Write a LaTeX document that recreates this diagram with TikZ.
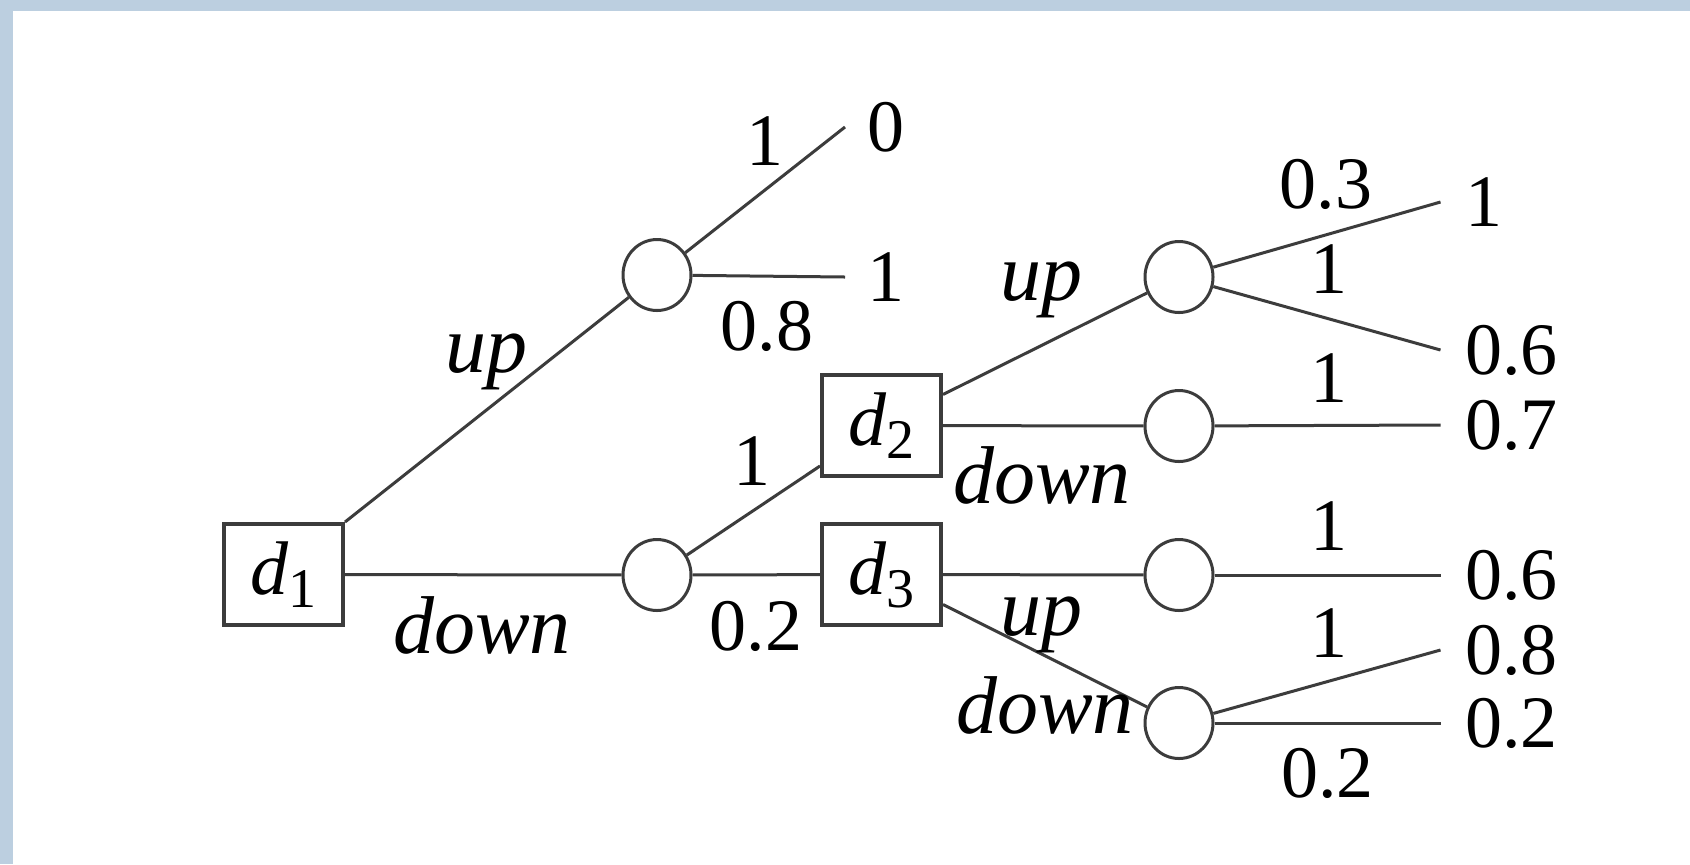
\documentclass[tikz,border=0pt]{standalone}
\usepackage{fontspec}
\setmainfont{Liberation Serif}
\usetikzlibrary{shapes.geometric}
\definecolor{bordblue}{RGB}{188,207,224}
\definecolor{ln}{RGB}{60,60,60}
\newcommand\dlab[1]{d\raisebox{-6.5pt}{\upshape\fontsize{28}{30}\selectfont #1}}
\begin{document}
\begin{tikzpicture}[x=0.5pt,y=-0.5pt,
  dec/.style={draw=ln, line width=2pt, minimum width=59.5pt, minimum height=50.5pt, inner sep=0pt, font=\fontsize{38}{40}\selectfont\itshape},
  chance/.style={ellipse, draw=ln, line width=1.5pt, minimum width=34pt, minimum height=35.5pt, inner sep=0pt},
  term/.style={anchor=west, inner xsep=11pt, inner ysep=0pt, font=\fontsize{37}{40}\selectfont},
  termR/.style={term, inner xsep=12.25pt},
  prob/.style={anchor=base, inner sep=0pt, font=\fontsize{37}{40}\selectfont},
  act/.style={anchor=base, inner sep=0pt, font=\fontsize{41}{44}\selectfont\itshape},
  edge/.style={draw=ln, line width=1.5pt}]
\fill[bordblue] (0,0) rectangle (1690,864);
\fill[white] (13,11) rectangle (1690,864);
\useasboundingbox (0,0) rectangle (1690,864);

% decision nodes
\node[dec] (d1) at (283.5,574.5) {\dlab{1}};
\node[dec] (d2) at (881.5,425.5) {\dlab{2}};
\node[dec] (d3) at (881.5,574.5) {\dlab{3}};

% chance nodes
\node[chance] (c1) at (657,275) {};
\node[chance] (c2) at (657,575) {};
\node[chance] (c3) at (1179,277) {};
\node[chance] (c4) at (1179,426) {};
\node[chance] (c5) at (1179,575) {};
\node[chance] (c6) at (1179,723) {};

% terminal values
\node[term] (t0) at (845,127) {0};
\node[term] (t1) at (845,277) {1};
\node[termR] (ta) at (1440.5,202) {1};
\node[termR] (tb) at (1440.5,350) {0.6};
\node[termR] (tc) at (1440.5,425) {0.7};
\node[termR] (td) at (1440.5,575) {0.6};
\node[termR] (te) at (1440.5,650) {0.8};
\node[termR] (tf) at (1440.5,723) {0.2};

% edges
\draw[edge] (d1.north east) -- (c1);
\draw[edge] (d1) -- (c2);
\draw[edge] (c1) -- (t0.west);
\draw[edge] (c1) -- (t1.west);
\draw[edge] (c2) -- ([yshift=6pt]d2.south west);
\draw[edge] (c2) -- (d3);
\draw[edge] ([yshift=15.5pt]d2.east) -- (c3);
\draw[edge] (d2) -- (c4);
\draw[edge] (d3) -- (c5);
\draw[edge] ([yshift=-15pt]d3.east) -- (c6);
\draw[edge] (c3) -- (ta.west);
\draw[edge] (c3) -- (tb.west);
\draw[edge] (c4) -- (tc.west);
\draw[edge] (c5) -- (td.west);
\draw[edge] (c6) -- (te.west);
\draw[edge] (c6) -- (tf.west);

% action labels
\node[act] (a1) at (486,372) {up};
\node[act] (a2) at (482,653) {down};
\node[act] (a3) at (1041,300) {up};
\node[act] (a4) at (1042,503) {down};
\node[act] (a5) at (1041,635) {up};
\node[act] (a6) at (1045,733) {down};

% probability labels
\node[prob] (p1) at (765,165) {1};
\node[prob] (p2) at (767,350) {0.8};
\node[prob] (p3) at (752,485) {1};
\node[prob] (p4) at (756,650) {0.2};
\node[prob] (p5) at (1326,208) {0.3};
\node[prob] (p6) at (1328.5,293) {1};
\node[prob] (p7) at (1328.5,402) {1};
\node[prob] (p8) at (1328.5,550) {1};
\node[prob] (p9) at (1328.5,657) {1};
\node[prob] (p10) at (1327.5,797) {0.2};
\end{tikzpicture}
\end{document}
